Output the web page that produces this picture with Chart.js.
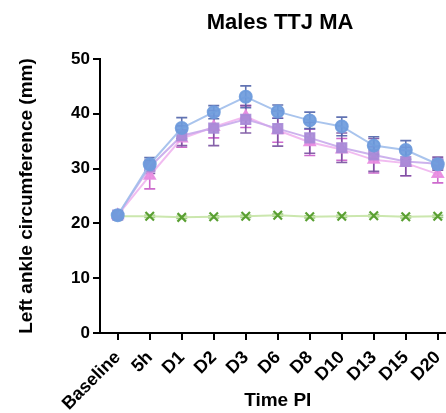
<!DOCTYPE html>
<html>
<head>
<meta charset="utf-8">
<script src="https://cdn.jsdelivr.net/npm/chart.js@4/dist/chart.umd.min.js"></script>
<style>
html,body{margin:0;padding:0;background:#fff;overflow:hidden;width:446px;height:413px;}
#wrap{position:absolute;left:0;top:0;width:464px;height:413px;}
</style>
</head>
<body>
<div id="wrap"><canvas id="c" width="464" height="413"></canvas></div>
<script>
const categories = ["Baseline","5h","D1","D2","D3","D6","D8","D10","D13","D15","D20"];
const blueMean   = [21.5, 30.8, 37.4, 40.3, 43.1, 40.4, 38.8, 37.7, 34.2, 33.4, 30.8];
const blueErr    = [0.3, 1.2, 1.9, 1.2, 2.0, 1.2, 1.5, 1.7, 1.6, 1.7, 0.8];
const purpleMean = [21.5, 30.3, 36.0, 37.4, 39.0, 37.3, 35.6, 33.8, 32.5, 31.3, 30.9];
const purpleErr  = [0.3, 1.2, 1.8, 3.2, 2.5, 3.2, 2.8, 2.7, 3.0, 2.6, 1.2];
const pinkMean   = [21.5, 28.7, 35.5, 37.6, 39.5, 37.0, 34.8, 33.5, 31.6, 31.0, 29.0];
const pinkErr    = [0.3, 2.4, 1.6, 2.0, 2.0, 2.2, 2.4, 2.0, 2.4, 2.3, 1.6];
const greenMean  = [21.3, 21.3, 21.1, 21.2, 21.3, 21.5, 21.2, 21.3, 21.4, 21.2, 21.3];
const greenErr   = [0.2, 0.2, 0.2, 0.2, 0.2, 0.2, 0.2, 0.2, 0.2, 0.2, 0.2];
const yTicks = [0, 10, 20, 30, 40, 50];

const FONT = "'Liberation Sans', Arial, Helvetica, sans-serif";

function pts(arr){ return arr.map((v,i)=>({x:i,y:v})); }

const errorSets = [
  {data: blueMean, err: blueErr, color: 'rgba(80,100,170,0.9)'},
  {data: purpleMean, err: purpleErr, color: 'rgba(120,80,160,0.9)'},
  {data: pinkMean, err: pinkErr, color: 'rgba(200,90,200,0.9)'},
  {data: greenMean, err: greenErr, color: 'rgba(90,160,50,0.6)'}
];

const errorBars = {
  id: 'errorBars',
  beforeDatasetsDraw(chart){
    const ctx = chart.ctx, xs = chart.scales.x, ys = chart.scales.y;
    ctx.save();
    ctx.lineWidth = 1.6;
    for (let s = errorSets.length - 1; s >= 0; s--) {
      const set = errorSets[s];
      ctx.strokeStyle = set.color;
      set.data.forEach((v,i)=>{
        const x = xs.getPixelForValue(i);
        const yt = ys.getPixelForValue(v + set.err[i]);
        const yb = ys.getPixelForValue(v - set.err[i]);
        ctx.beginPath();
        ctx.moveTo(x, yt); ctx.lineTo(x, yb);
        ctx.moveTo(x-5.5, yt); ctx.lineTo(x+5.5, yt);
        ctx.moveTo(x-5.5, yb); ctx.lineTo(x+5.5, yb);
        ctx.stroke();
      });
    }
    ctx.restore();
  }
};

const titlePlugin = {
  id: 'centerTitle',
  afterDraw(chart){
    const ctx = chart.ctx, a = chart.chartArea;
    ctx.save();
    ctx.font = "bold 22px " + FONT;
    ctx.fillStyle = '#000';
    ctx.textAlign = 'center';
    ctx.textBaseline = 'alphabetic';
    ctx.fillText('Males TTJ MA', 280, 29);
    ctx.restore();
  }
};

new Chart(document.getElementById('c'), {
  type: 'line',
  data: {
    datasets: [
      {label:'blue', data: pts(blueMean), borderColor:'rgba(160,190,235,0.9)', borderWidth:2,
       backgroundColor:'rgba(110,155,220,0.92)', pointBorderColor:'rgba(110,155,220,0.92)',
       pointStyle:'circle', pointRadius:6, tension:0},
      {label:'purple', data: pts(purpleMean), borderColor:'rgba(200,170,235,0.9)', borderWidth:2,
       backgroundColor:'rgba(168,138,215,0.92)', pointBorderColor:'rgba(168,138,215,0.92)',
       pointStyle:'rect', pointRadius:6.5, tension:0},
      {label:'pink', data: pts(pinkMean), borderColor:'rgba(240,180,238,0.9)', borderWidth:2,
       backgroundColor:'rgba(232,140,225,0.92)', pointBorderColor:'rgba(232,140,225,0.92)',
       pointStyle:'triangle', pointRadius:6, tension:0},
      {label:'green', data: pts(greenMean), borderColor:'rgba(200,230,170,0.95)', borderWidth:2,
       backgroundColor:'rgba(90,160,50,1)', pointBorderColor:'rgba(90,160,50,1)',
       pointStyle:'crossRot', pointRadius:6, pointBorderWidth:2.2, tension:0}
    ]
  },
  options: {
    responsive:false,
    animation:false,
    clip:false,
    layout:{padding:{top:59, right:3, left:0, bottom:0}},
    plugins:{legend:{display:false}, tooltip:{enabled:false}, title:{display:false}},
    scales:{
      x:{
        type:'linear', min:-0.554, max:10.554,
        afterBuildTicks(scale){ scale.ticks = categories.map((c,i)=>({value:i})); },
        afterFit(scale){ scale.height = 80; },
        ticks:{
          callback:(v)=>categories[v],
          autoSkip:false, maxRotation:45, minRotation:45,
          color:'#000', font:{family:FONT, size:18, weight:'bold'}, padding:7
        },
        grid:{drawOnChartArea:false, color:'#000', tickLength:7, lineWidth:2},
        border:{color:'#000', width:2},
        title:{display:true, text:'Time PI', color:'#000', font:{family:FONT, size:19, weight:'bold'}, padding:{top:0,bottom:1}}
      },
      y:{
        min:0, max:50,
        afterBuildTicks(scale){ scale.ticks = yTicks.map(v=>({value:v})); },
        afterFit(scale){ scale.width = 100; },
        ticks:{color:'#000', font:{family:FONT, size:17, weight:'bold'}, padding:3},
        grid:{drawOnChartArea:false, color:'#000', tickLength:7, lineWidth:2},
        border:{color:'#000', width:2},
        title:{display:true, text:'Left ankle circumference (mm)', color:'#000', font:{family:FONT, size:19, weight:'bold'}, padding:{top:15,bottom:0}}
      }
    }
  },
  plugins:[errorBars, titlePlugin]
});
</script>
</body>
</html>
